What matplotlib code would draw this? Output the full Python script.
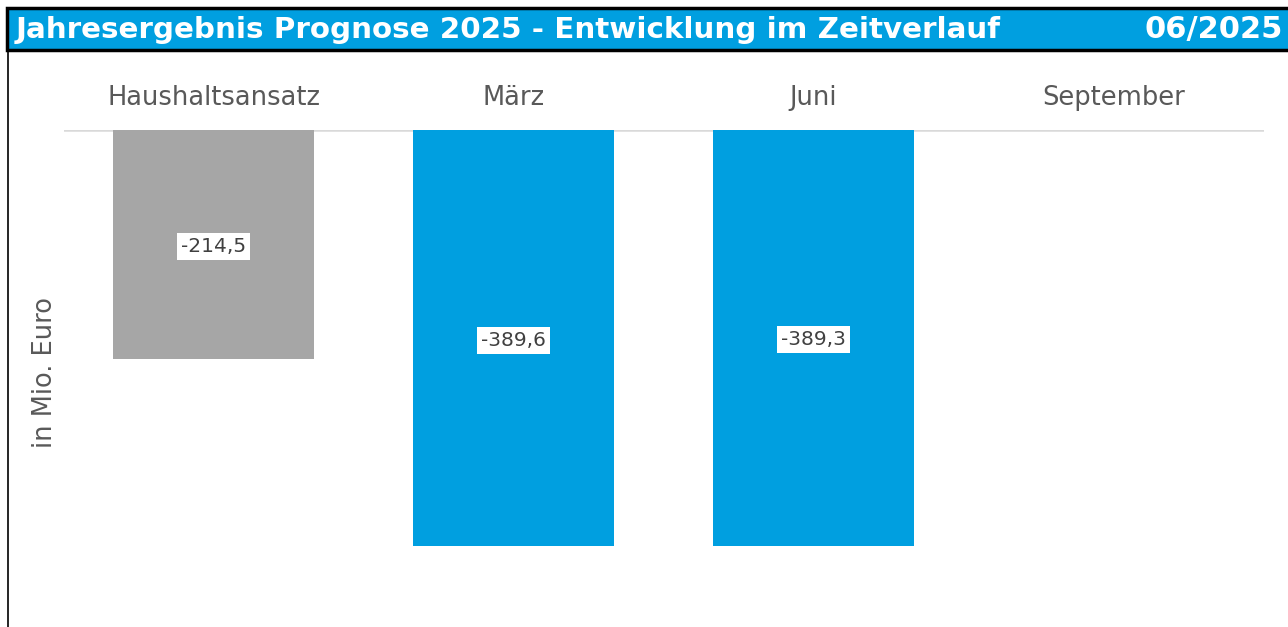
import matplotlib
matplotlib.use('Agg')
import matplotlib.pyplot as plt
from matplotlib.patches import Rectangle
from matplotlib.lines import Line2D

# Daten
kategorien = ['Haushaltsansatz', 'März', 'Juni', 'September']
werte = [-214.5, -389.6, -389.3, None]
farben = ['#A6A6A6', '#009FE0', '#009FE0', '#009FE0']
titel = 'Jahresergebnis Prognose 2025 - Entwicklung im Zeitverlauf'
stand = '06/2025'

W, H = 1288, 627
fig = plt.figure(figsize=(W / 100, H / 100), dpi=100)
fig.patch.set_facecolor('white')

# Plotbereich: x 64..1264, Nulllinie bei y=130
ax = fig.add_axes([63.5 / W, 1 - 610 / H, 1200 / W, 480 / H])
ax.set_xlim(-0.5, len(kategorien) - 0.5)
ax.set_ylim(-449.6, 0)

xs = [i for i, v in enumerate(werte) if v is not None]
ys = [v for v in werte if v is not None]
bars = ax.bar(xs, ys, width=0.667, color=[farben[i] for i in xs], zorder=2)

for b, v in zip(bars, ys):
    txt = f'{v:.1f}'.replace('.', ',')
    ax.annotate(txt, (b.get_x() + b.get_width() / 2, v / 2), xytext=(0, -1.5),
                textcoords='offset points', ha='center', va='center',
                fontsize=14.5, color='#404040', zorder=3,
                bbox=dict(boxstyle='square,pad=0.2', fc='white', ec='none'))

ax.axhline(0, color='#D9D9D9', lw=1.8, zorder=1)

# Kategorien oben
for i, k in enumerate(kategorien):
    ax.text(i, 1.066, k, transform=ax.get_xaxis_transform(), ha='center', va='center',
            fontsize=18.5, color='#595959')

for s in ax.spines.values():
    s.set_visible(False)
ax.set_xticks([])
ax.set_yticks([])

fig.text(45 / W, 1 - 372 / H, 'in Mio. Euro', rotation=90, ha='center', va='center',
         fontsize=18.5, color='#595959')

# Titelleiste
fig.patches.append(Rectangle((7 / W, 1 - 50 / H), 1.0, 42 / H, transform=fig.transFigure,
                             facecolor='#009FE0', edgecolor='black', lw=2.5))
fig.add_artist(Line2D([7.5 / W, 7.5 / W], [0, 1 - 50 / H], color='black', lw=1.2))
fig.text(16 / W, 1 - 29.5 / H, titel, ha='left', va='center', fontsize=21.2,
         fontweight='bold', color='white')
fig.text(1283 / W, 1 - 29.5 / H, stand, ha='right', va='center', fontsize=22,
         fontweight='bold', color='white')

fig.savefig('out.png', dpi=100)
